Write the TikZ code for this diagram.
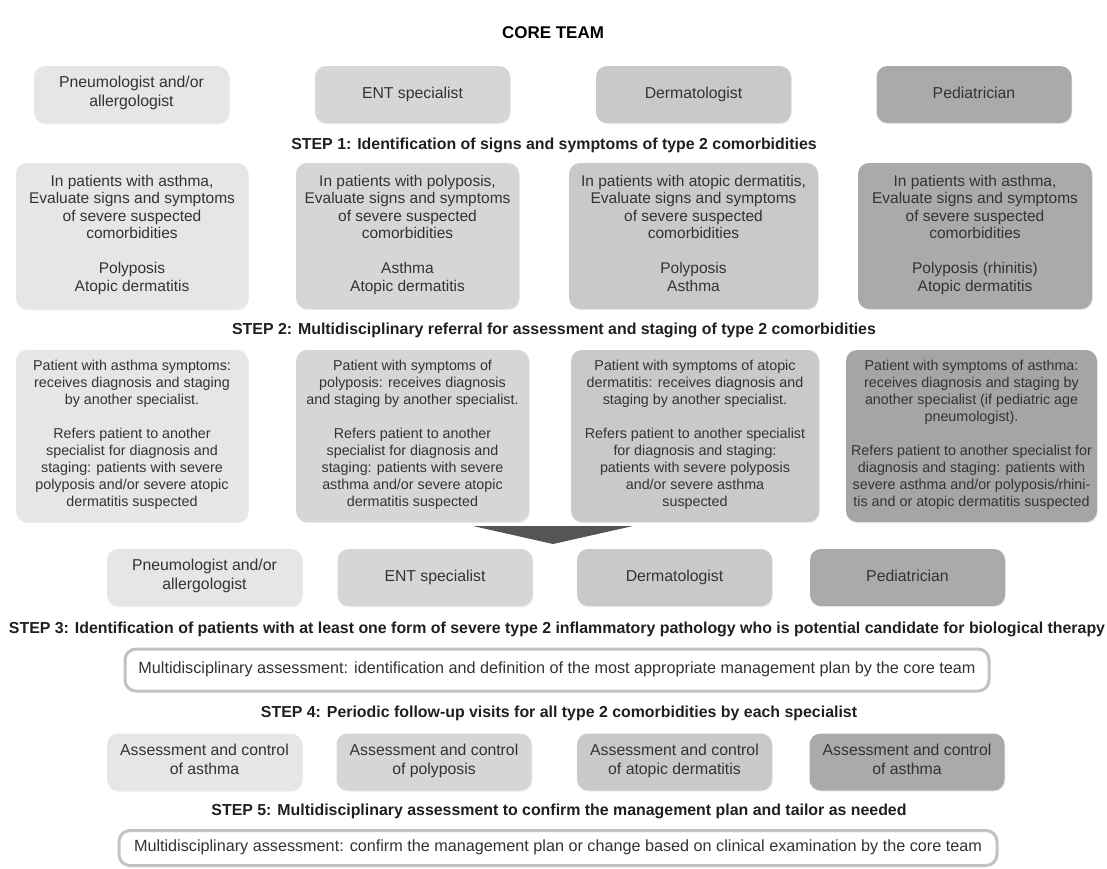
\documentclass[tikz,border=0pt]{standalone}
\usepackage{fontspec}
\setmainfont{Liberation Sans}
\usetikzlibrary{positioning,shadows}

\definecolor{gA}{HTML}{E6E6E6}
\definecolor{gB}{HTML}{D6D6D6}
\definecolor{gC}{HTML}{C9C9C9}
\definecolor{gD}{HTML}{AAAAAA}
\definecolor{txt}{HTML}{333333}
\definecolor{rim}{HTML}{C2C2C2}
\definecolor{tri}{HTML}{555555}

\begin{document}
\begin{tikzpicture}[x=1pt,y=-1pt,
    box/.style={rounded corners=11pt,align=center,text=txt,inner sep=0pt,
      execute at begin node=\strut,execute at end node=\strut},
    lift/.style={drop shadow={shadow xshift=0.8pt,shadow yshift=-1.2pt,opacity=0.15}},
    spec/.style={box,lift,minimum width=195pt,minimum height=57pt,font=\fontsize{15.8}{19}\selectfont},
    signs/.style={box,lift,minimum height=146pt,font=\fontsize{15.5}{17.5}\selectfont},
    refer/.style={box,lift,minimum height=172pt,font=\fontsize{14.3}{17}\selectfont},
    plan/.style={box,draw=rim,line width=3pt,fill=white,font=\fontsize{16.2}{18}\selectfont},
    steplabel/.style={font=\bfseries\fontsize{15.9}{18}\selectfont,text=black!88}]
\useasboundingbox (0,0) rectangle (1107,868);

\node[font=\bfseries\fontsize{17}{19}\selectfont] (title) at (553,33) {CORE TEAM};

% core team
\node[spec,fill=gA] (pneu) at (131.5,94.5) {Pneumologist and/or\\allergologist};
\node[spec,fill=gB] (ent) at (412.5,94.5) {ENT specialist};
\node[spec,fill=gC] (derm) at (693.5,94.5) {Dermatologist};
\node[spec,fill=gD] (ped) at (974,94.5) {Pediatrician};

\node[steplabel] (step1) at (554,145) {STEP 1: Identification of signs and symptoms of type 2 comorbidities};

\node[signs,fill=gA,minimum width=232pt] (sA) at (132,236) {In patients with asthma,\\Evaluate signs and symptoms\\of severe suspected\\comorbidities\\[17.5pt]Polyposis\\Atopic dermatitis};
\node[signs,fill=gB,minimum width=223pt] (sB) at (407.5,236) {In patients with polyposis,\\Evaluate signs and symptoms\\of severe suspected\\comorbidities\\[17.5pt]Asthma\\Atopic dermatitis};
\node[signs,fill=gC,minimum width=249pt] (sC) at (693.5,236) {In patients with atopic dermatitis,\\Evaluate signs and symptoms\\of severe suspected\\comorbidities\\[17.5pt]Polyposis\\Asthma};
\node[signs,fill=gD,minimum width=234pt] (sD) at (975,236) {In patients with asthma,\\Evaluate signs and symptoms\\of severe suspected\\comorbidities\\[17.5pt]Polyposis (rhinitis)\\Atopic dermatitis};

\node[steplabel] (step2) at (554,330) {STEP 2: Multidisciplinary referral for assessment and staging of type 2 comorbidities};

\node[refer,fill=gA,minimum width=232pt] (rA) at (132,436) {Patient with asthma symptoms:\\receives diagnosis and staging\\by another specialist.\\[17pt]Refers patient to another\\specialist for diagnosis and\\staging: patients with severe\\polyposis and/or severe atopic\\dermatitis suspected};
\node[refer,fill=gB,minimum width=233pt] (rB) at (412.5,436) {Patient with symptoms of\\polyposis: receives diagnosis\\and staging by another specialist.\\[17pt]Refers patient to another\\specialist for diagnosis and\\staging: patients with severe\\asthma and/or severe atopic\\dermatitis suspected};
\node[refer,fill=gC,minimum width=248pt] (rC) at (695,436) {Patient with symptoms of atopic\\dermatitis: receives diagnosis and\\staging by another specialist.\\[17pt]Refers patient to another specialist\\for diagnosis and staging:\\patients with severe polyposis\\and/or severe asthma\\suspected};
\node[refer,fill=gD!97!black,minimum width=251pt] (rD) at (971.5,436) {Patient with symptoms of asthma:\\receives diagnosis and staging by\\another specialist (if pediatric age\\pneumologist).\\[17pt]Refers patient to another specialist for\\diagnosis and staging: patients with\\severe asthma and/or polyposis/rhini-\\tis and or atopic dermatitis suspected};

% arrow down to the core team
\fill[tri] (473,526) -- (633,526) -- (553,544) -- cycle;

\node[spec,fill=gA] (pneu2) at (204.5,577.5) {Pneumologist and/or\\allergologist};
\node[spec,fill=gB] (ent2) at (435,577.5) {ENT specialist};
\node[spec,fill=gC] (derm2) at (674.5,577.5) {Dermatologist};
\node[spec,fill=gD] (ped2) at (907.5,577.5) {Pediatrician};

\node[steplabel] (step3) at (557,629) {STEP 3: Identification of patients with at least one form of severe type 2 inflammatory pathology who is potential candidate for biological therapy};

\node[plan,minimum width=864pt,minimum height=42pt] (plan1) at (557,670) {Multidisciplinary assessment: identification and definition of the most appropriate management plan by the core team};

\node[steplabel] (step4) at (559,713) {STEP 4: Periodic follow-up visits for all type 2 comorbidities by each specialist};

\node[spec,fill=gA] (ctA) at (204.5,762) {Assessment and control\\of asthma};
\node[spec,fill=gB] (ctB) at (434,762) {Assessment and control\\of polyposis};
\node[spec,fill=gC] (ctC) at (674.5,762) {Assessment and control\\of atopic dermatitis};
\node[spec,fill=gD] (ctD) at (907,762) {Assessment and control\\of asthma};

\node[steplabel] (step5) at (559,811) {STEP 5: Multidisciplinary assessment to confirm the management plan and tailor as needed};

\node[plan,minimum width=878pt,minimum height=35pt] (plan2) at (558,848) {Multidisciplinary assessment: confirm the management plan or change based on clinical examination by the core team};
\end{tikzpicture}
\end{document}
